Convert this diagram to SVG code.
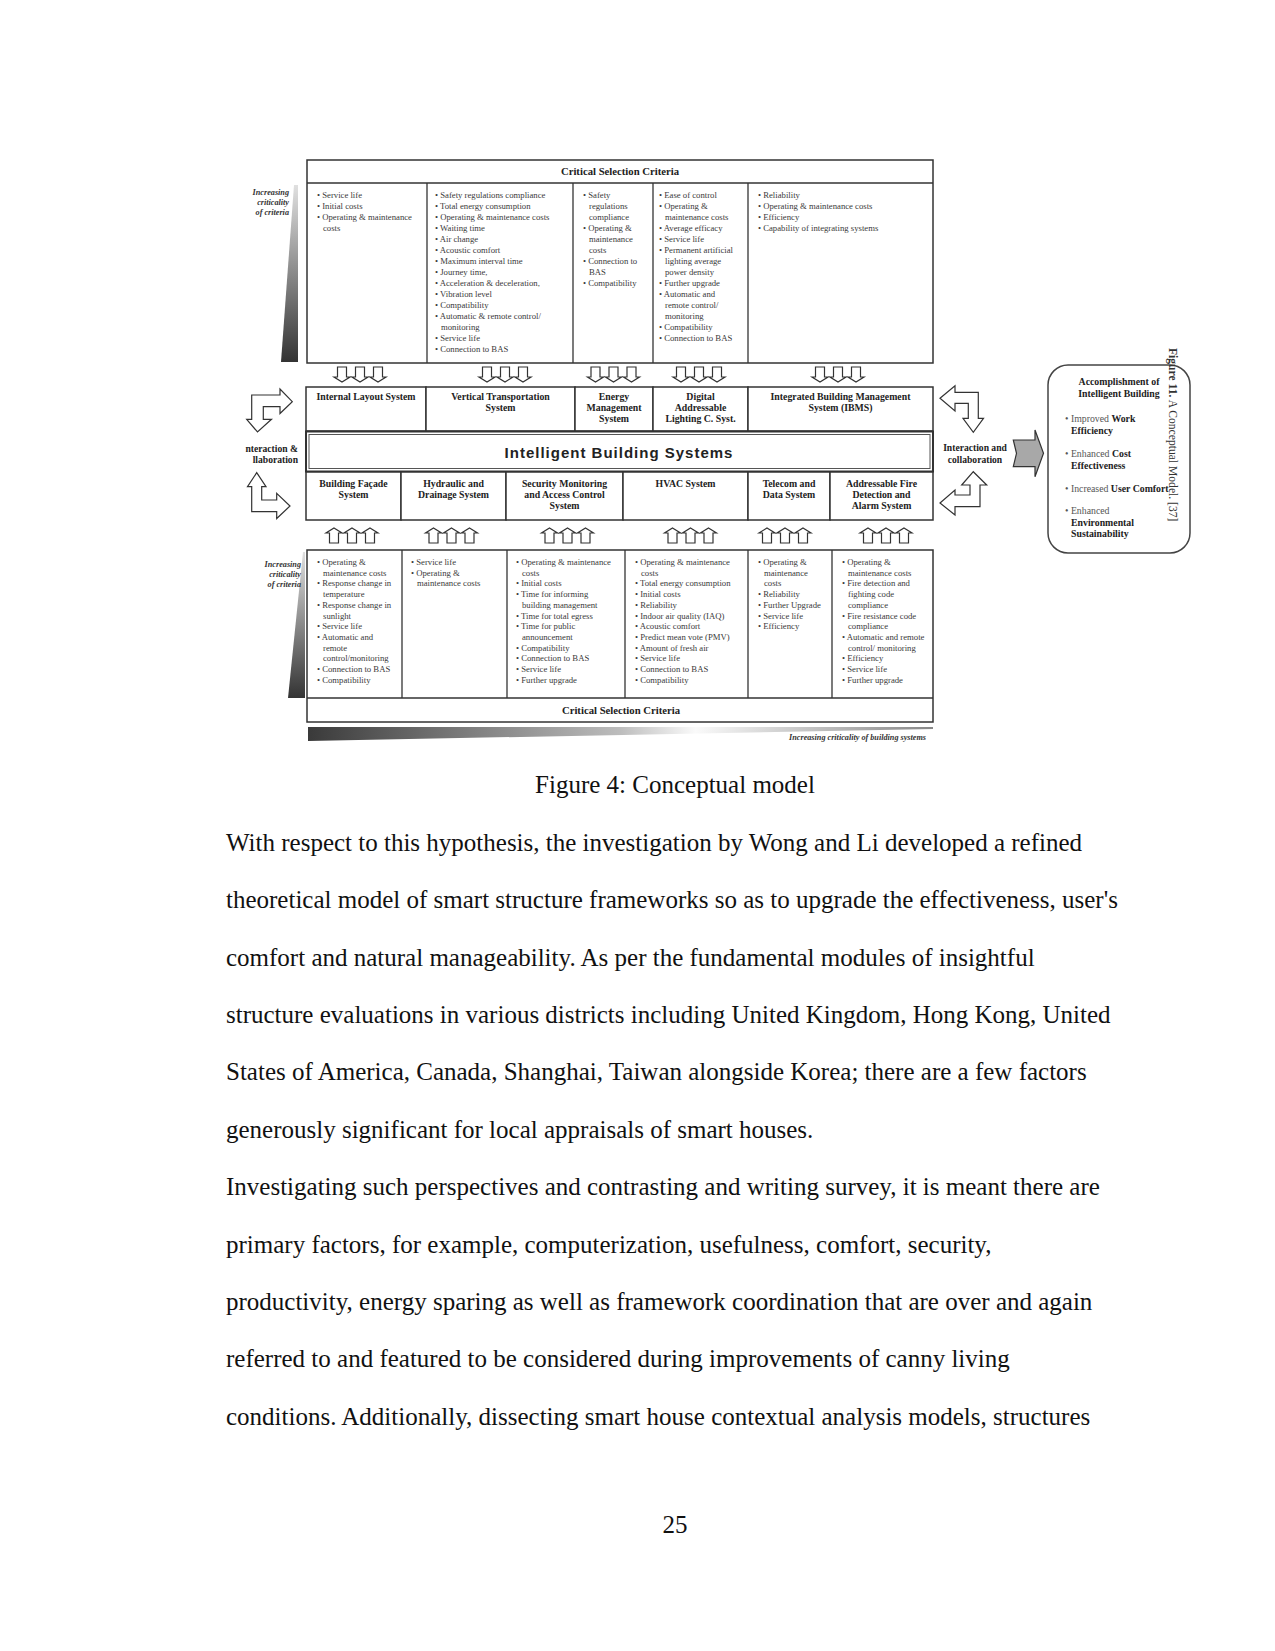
<svg xmlns="http://www.w3.org/2000/svg" width="1275" height="1651" viewBox="0 0 1275 1651">
<style>
.bg{fill:#fff}
.box{fill:#fff;stroke:#333;stroke-width:1.5}
.ln{stroke:#333;stroke-width:1.3;fill:none}
.arr{fill:#fff;stroke:#333;stroke-width:1.2;stroke-linejoin:miter}
.crit{font-family:"Liberation Serif",serif;font-size:8.7px;fill:#3a3a3a}
.sys{font-family:"Liberation Serif",serif;font-size:9.8px;font-weight:bold;fill:#222;text-anchor:middle}
.hdr{font-family:"Liberation Serif",serif;font-size:10.7px;font-weight:bold;fill:#222;text-anchor:middle}
.ibs{font-family:"Liberation Sans",Arial,sans-serif;font-size:15px;font-weight:bold;fill:#222;text-anchor:middle;letter-spacing:1px}
.it{font-family:"Liberation Serif",serif;font-size:8.2px;font-weight:bold;font-style:italic;fill:#333;text-anchor:end}
.ia{font-family:"Liberation Serif",serif;font-size:9.6px;font-weight:bold;fill:#222}
.acc{font-family:"Liberation Serif",serif;font-size:9.8px;fill:#555}
.accb{font-weight:bold;fill:#222}
.body{font-family:"Liberation Serif","Times New Roman",serif;font-size:25px;fill:#111}
</style>
<defs>
<linearGradient id="gv" x1="0" y1="0" x2="0" y2="1">
<stop offset="0" stop-color="#e0e0e0"/>
<stop offset="1" stop-color="#333"/>
</linearGradient>
<linearGradient id="gh" x1="0" y1="0" x2="1" y2="0">
<stop offset="0" stop-color="#3a3a3a"/>
<stop offset="0.5" stop-color="#bdbdbd"/>
<stop offset="0.62" stop-color="#fafafa"/>
<stop offset="1" stop-color="#888"/>
</linearGradient>
<path id="da" class="arr" d="M-4.5,0 H4.5 V10 H8 L0,15 L-8,10 H-4.5 Z"/>
<path id="ua" class="arr" d="M0,0 L8,5 H4.5 V15 H-4.5 V5 H-8 Z"/>
</defs>
<rect class="bg" x="0" y="0" width="1275" height="1651"/>

<!-- Left gradient triangles and labels -->
<g id="crit-top-indicator">
<polygon points="294,185 298,185 298,362 281,362" fill="url(#gv)"/>
<text class="it"><tspan x="289" y="195">Increasing</tspan><tspan x="289" y="205">criticality</tspan><tspan x="289" y="215">of criteria</tspan></text>
</g>
<g id="crit-bottom-indicator">
<polygon points="303,552 305,552 305,698 288,698" fill="url(#gv)"/>
<text class="it"><tspan x="301" y="567">Increasing</tspan><tspan x="301" y="577">criticality</tspan><tspan x="301" y="587">of criteria</tspan></text>
</g>

<!-- Top criteria table -->
<g id="top-criteria">
<rect class="box" x="307" y="160" width="626" height="203"/>
<line class="ln" x1="307" y1="183" x2="933" y2="183"/>
<line class="ln" x1="427" y1="183" x2="427" y2="363"/>
<line class="ln" x1="573" y1="183" x2="573" y2="363"/>
<line class="ln" x1="653" y1="183" x2="653" y2="363"/>
<line class="ln" x1="748" y1="183" x2="748" y2="363"/>
<text class="hdr" x="620" y="175">Critical Selection Criteria</text>
<text class="crit"><tspan x="317" y="198">• Service life</tspan><tspan x="317" dy="11">• Initial costs</tspan><tspan x="317" dy="11">• Operating &amp; maintenance</tspan><tspan x="323" dy="11">costs</tspan></text>
<text class="crit"><tspan x="435" y="198">• Safety regulations compliance</tspan><tspan x="435" dy="11">• Total energy consumption</tspan><tspan x="435" dy="11">• Operating &amp; maintenance costs</tspan><tspan x="435" dy="11">• Waiting time</tspan><tspan x="435" dy="11">• Air change</tspan><tspan x="435" dy="11">• Acoustic comfort</tspan><tspan x="435" dy="11">• Maximum interval time</tspan><tspan x="435" dy="11">• Journey time,</tspan><tspan x="435" dy="11">• Acceleration &amp; deceleration,</tspan><tspan x="435" dy="11">• Vibration level</tspan><tspan x="435" dy="11">• Compatibility</tspan><tspan x="435" dy="11">• Automatic &amp; remote control/</tspan><tspan x="441" dy="11">monitoring</tspan><tspan x="435" dy="11">• Service life</tspan><tspan x="435" dy="11">• Connection to BAS</tspan></text>
<text class="crit"><tspan x="583" y="198">• Safety</tspan><tspan x="589" dy="11">regulations</tspan><tspan x="589" dy="11">compliance</tspan><tspan x="583" dy="11">• Operating &amp;</tspan><tspan x="589" dy="11">maintenance</tspan><tspan x="589" dy="11">costs</tspan><tspan x="583" dy="11">• Connection to</tspan><tspan x="589" dy="11">BAS</tspan><tspan x="583" dy="11">• Compatibility</tspan></text>
<text class="crit"><tspan x="659" y="198">• Ease of control</tspan><tspan x="659" dy="11">• Operating &amp;</tspan><tspan x="665" dy="11">maintenance costs</tspan><tspan x="659" dy="11">• Average efficacy</tspan><tspan x="659" dy="11">• Service life</tspan><tspan x="659" dy="11">• Permanent artificial</tspan><tspan x="665" dy="11">lighting average</tspan><tspan x="665" dy="11">power density</tspan><tspan x="659" dy="11">• Further upgrade</tspan><tspan x="659" dy="11">• Automatic and</tspan><tspan x="665" dy="11">remote control/</tspan><tspan x="665" dy="11">monitoring</tspan><tspan x="659" dy="11">• Compatibility</tspan><tspan x="659" dy="11">• Connection to BAS</tspan></text>
<text class="crit"><tspan x="758" y="198">• Reliability</tspan><tspan x="758" dy="11">• Operating &amp; maintenance costs</tspan><tspan x="758" dy="11">• Efficiency</tspan><tspan x="758" dy="11">• Capability of integrating systems</tspan></text>
</g>

<!-- Connectors: arrows -->
<g id="connectors">
<use href="#da" x="342" y="367"/><use href="#da" x="360" y="367"/><use href="#da" x="378" y="367"/>
<use href="#da" x="487" y="367"/><use href="#da" x="505" y="367"/><use href="#da" x="523" y="367"/>
<use href="#da" x="595.5" y="367"/><use href="#da" x="613.5" y="367"/><use href="#da" x="631.5" y="367"/>
<use href="#da" x="681" y="367"/><use href="#da" x="699" y="367"/><use href="#da" x="717" y="367"/>
<use href="#da" x="820" y="367"/><use href="#da" x="838" y="367"/><use href="#da" x="856" y="367"/>

<use href="#ua" x="334" y="528"/><use href="#ua" x="352" y="528"/><use href="#ua" x="370" y="528"/>
<use href="#ua" x="433.5" y="528"/><use href="#ua" x="451.5" y="528"/><use href="#ua" x="469.5" y="528"/>
<use href="#ua" x="549.5" y="528"/><use href="#ua" x="567.5" y="528"/><use href="#ua" x="585.5" y="528"/>
<use href="#ua" x="672.5" y="528"/><use href="#ua" x="690.5" y="528"/><use href="#ua" x="708.5" y="528"/>
<use href="#ua" x="767" y="528"/><use href="#ua" x="785" y="528"/><use href="#ua" x="803" y="528"/>
<use href="#ua" x="868" y="528"/><use href="#ua" x="886" y="528"/><use href="#ua" x="904" y="528"/>

<polygon class="arr" points="251.7,395 280,395 280,389 292.3,401.7 280,413.5 280,406.7 263.3,406.7 263.3,419.3 271.5,419.3 257.5,432 246.7,419.3 251.7,419.3"/>
<polygon class="arr" points="251.7,486.7 251.7,511.7 276.7,511.7 276.7,518.5 290,506 276.7,493.3 276.7,500 261.7,500 261.7,486.7 266,486.7 256.7,472.7 247.5,486.7"/>
<polygon class="arr" points="940,398.3 955,385.7 955,392.3 978.3,392.3 978.3,418.3 983.5,418.3 973.3,432.3 963,418.3 968.3,418.3 968.3,403.3 955,403.3 955,411"/>
<polygon class="arr" points="973.3,471.7 986.7,485 980,485 980,506.7 955,506.7 955,515 940,503 955,490 955,495 970,495 970,485 961.7,485"/>
<polygon points="1013.3,440 1035,440 1035,430 1043.5,453.3 1035,476.7 1035,466.7 1013.3,466.7 1016.5,453.3" fill="#a8a8a8" stroke="#333" stroke-width="1.2"/>
</g>

<g id="interaction-left">
<text class="ia" text-anchor="end"><tspan x="298" y="451.5">nteraction &amp;</tspan><tspan x="298" y="463">llaboration</tspan></text>
</g>
<g id="interaction-right">
<text class="ia" text-anchor="middle"><tspan x="975" y="451">Interaction and</tspan><tspan x="975" y="462.5">collaboration</tspan></text>
</g>

<!-- Upper systems row -->
<g id="sys-internal-layout">
<rect class="box" x="306" y="387" width="120" height="44"/>
<text class="sys" x="366" y="400">Internal Layout System</text>
</g>
<g id="sys-vertical-transportation">
<rect class="box" x="426" y="387" width="149" height="44"/>
<text class="sys"><tspan x="500.5" y="400">Vertical Transportation</tspan><tspan x="500.5" dy="11">System</tspan></text>
</g>
<g id="sys-energy-management">
<rect class="box" x="575" y="387" width="78" height="44"/>
<text class="sys"><tspan x="614" y="400">Energy</tspan><tspan x="614" dy="11">Management</tspan><tspan x="614" dy="11">System</tspan></text>
</g>
<g id="sys-dali">
<rect class="box" x="653" y="387" width="95" height="44"/>
<text class="sys"><tspan x="700.5" y="400">Digital</tspan><tspan x="700.5" dy="11">Addressable</tspan><tspan x="700.5" dy="11">Lighting C. Syst.</tspan></text>
</g>
<g id="sys-ibms">
<rect class="box" x="748" y="387" width="185" height="44"/>
<text class="sys"><tspan x="840.5" y="400">Integrated Building Management</tspan><tspan x="840.5" dy="11">System (IBMS)</tspan></text>
</g>

<!-- Central IBS bar -->
<g id="intelligent-building-systems">
<rect x="306" y="431.5" width="627" height="40" fill="#fff" stroke="#333" stroke-width="2"/>
<rect x="309" y="434.5" width="621" height="34" fill="none" stroke="#555" stroke-width="1"/>
<text class="ibs" x="619" y="457.5">Intelligent Building Systems</text>
</g>

<!-- Lower systems row -->
<g id="sys-facade">
<rect class="box" x="306" y="472" width="95" height="48"/>
<text class="sys"><tspan x="353.5" y="487">Building Façade</tspan><tspan x="353.5" dy="11">System</tspan></text>
</g>
<g id="sys-hydraulic">
<rect class="box" x="401" y="472" width="105" height="48"/>
<text class="sys"><tspan x="453.5" y="487">Hydraulic and</tspan><tspan x="453.5" dy="11">Drainage System</tspan></text>
</g>
<g id="sys-security">
<rect class="box" x="506" y="472" width="117" height="48"/>
<text class="sys"><tspan x="564.5" y="487">Security Monitoring</tspan><tspan x="564.5" dy="11">and Access Control</tspan><tspan x="564.5" dy="11">System</tspan></text>
</g>
<g id="sys-hvac">
<rect class="box" x="623" y="472" width="125" height="48"/>
<text class="sys" x="685.5" y="487">HVAC System</text>
</g>
<g id="sys-telecom">
<rect class="box" x="748" y="472" width="82" height="48"/>
<text class="sys"><tspan x="789" y="487">Telecom and</tspan><tspan x="789" dy="11">Data System</tspan></text>
</g>
<g id="sys-fire">
<rect class="box" x="830" y="472" width="103" height="48"/>
<text class="sys"><tspan x="881.5" y="487">Addressable Fire</tspan><tspan x="881.5" dy="11">Detection and</tspan><tspan x="881.5" dy="11">Alarm System</tspan></text>
</g>

<!-- Bottom criteria table -->
<g id="bottom-criteria">
<rect class="box" x="307" y="550" width="626" height="172"/>
<line class="ln" x1="307" y1="698" x2="933" y2="698"/>
<line class="ln" x1="402" y1="550" x2="402" y2="698"/>
<line class="ln" x1="507" y1="550" x2="507" y2="698"/>
<line class="ln" x1="625" y1="550" x2="625" y2="698"/>
<line class="ln" x1="748" y1="550" x2="748" y2="698"/>
<line class="ln" x1="832" y1="550" x2="832" y2="698"/>
<text class="hdr" x="621" y="714">Critical Selection Criteria</text>
<text class="crit"><tspan x="317" y="565">• Operating &amp;</tspan><tspan x="323" dy="10.7">maintenance costs</tspan><tspan x="317" dy="10.7">• Response change in</tspan><tspan x="323" dy="10.7">temperature</tspan><tspan x="317" dy="10.7">• Response change in</tspan><tspan x="323" dy="10.7">sunlight</tspan><tspan x="317" dy="10.7">• Service life</tspan><tspan x="317" dy="10.7">• Automatic and</tspan><tspan x="323" dy="10.7">remote</tspan><tspan x="323" dy="10.7">control/monitoring</tspan><tspan x="317" dy="10.7">• Connection to BAS</tspan><tspan x="317" dy="10.7">• Compatibility</tspan></text>
<text class="crit"><tspan x="411" y="565">• Service life</tspan><tspan x="411" dy="10.7">• Operating &amp;</tspan><tspan x="417" dy="10.7">maintenance costs</tspan></text>
<text class="crit"><tspan x="516" y="565">• Operating &amp; maintenance</tspan><tspan x="522" dy="10.7">costs</tspan><tspan x="516" dy="10.7">• Initial costs</tspan><tspan x="516" dy="10.7">• Time for informing</tspan><tspan x="522" dy="10.7">building management</tspan><tspan x="516" dy="10.7">• Time for total egress</tspan><tspan x="516" dy="10.7">• Time for public</tspan><tspan x="522" dy="10.7">announcement</tspan><tspan x="516" dy="10.7">• Compatibility</tspan><tspan x="516" dy="10.7">• Connection to BAS</tspan><tspan x="516" dy="10.7">• Service life</tspan><tspan x="516" dy="10.7">• Further upgrade</tspan></text>
<text class="crit"><tspan x="635" y="565">• Operating &amp; maintenance</tspan><tspan x="641" dy="10.7">costs</tspan><tspan x="635" dy="10.7">• Total energy consumption</tspan><tspan x="635" dy="10.7">• Initial costs</tspan><tspan x="635" dy="10.7">• Reliability</tspan><tspan x="635" dy="10.7">• Indoor air quality (IAQ)</tspan><tspan x="635" dy="10.7">• Acoustic comfort</tspan><tspan x="635" dy="10.7">• Predict mean vote (PMV)</tspan><tspan x="635" dy="10.7">• Amount of fresh air</tspan><tspan x="635" dy="10.7">• Service life</tspan><tspan x="635" dy="10.7">• Connection to BAS</tspan><tspan x="635" dy="10.7">• Compatibility</tspan></text>
<text class="crit"><tspan x="758" y="565">• Operating &amp;</tspan><tspan x="764" dy="10.7">maintenance</tspan><tspan x="764" dy="10.7">costs</tspan><tspan x="758" dy="10.7">• Reliability</tspan><tspan x="758" dy="10.7">• Further Upgrade</tspan><tspan x="758" dy="10.7">• Service life</tspan><tspan x="758" dy="10.7">• Efficiency</tspan></text>
<text class="crit"><tspan x="842" y="565">• Operating &amp;</tspan><tspan x="848" dy="10.7">maintenance costs</tspan><tspan x="842" dy="10.7">• Fire detection and</tspan><tspan x="848" dy="10.7">fighting code</tspan><tspan x="848" dy="10.7">compliance</tspan><tspan x="842" dy="10.7">• Fire resistance code</tspan><tspan x="848" dy="10.7">compliance</tspan><tspan x="842" dy="10.7">• Automatic and remote</tspan><tspan x="848" dy="10.7">control/ monitoring</tspan><tspan x="842" dy="10.7">• Efficiency</tspan><tspan x="842" dy="10.7">• Service life</tspan><tspan x="842" dy="10.7">• Further upgrade</tspan></text>
</g>

<g id="system-criticality-bar">
<polygon points="308,727 933,727 933,729 308,741" fill="url(#gh)"/>
<text class="it" x="926" y="739.5">Increasing criticality of building systems</text>
</g>

<!-- Accomplishment box -->
<g id="accomplishment">
<rect x="1048" y="365" width="142" height="188" rx="20" ry="20" fill="#fff" stroke="#444" stroke-width="1.5"/>
<text class="sys" font-size="10.8"><tspan x="1119" y="385">Accomplishment of</tspan><tspan x="1119" dy="11.7">Intelligent Building</tspan></text>
<text class="acc"><tspan x="1065" y="422">• Improved <tspan class="accb">Work</tspan></tspan><tspan x="1071" y="433.5" class="accb">Efficiency</tspan><tspan x="1065" y="457">• Enhanced <tspan class="accb">Cost</tspan></tspan><tspan x="1071" y="468.5" class="accb">Effectiveness</tspan><tspan x="1065" y="492">• Increased <tspan class="accb">User Comfort</tspan></tspan><tspan x="1065" y="514">• Enhanced</tspan><tspan x="1071" y="525.7" class="accb">Environmental</tspan><tspan x="1071" y="537" class="accb">Sustainability</tspan></text>
</g>
<text transform="translate(1169,348) rotate(90)" font-family="Liberation Serif, serif" font-size="11.6px" fill="#333"><tspan font-weight="bold">Figure 11.</tspan> A Conceptual Model. [37]</text>

<!-- Caption and body -->
<text class="body" x="675" y="792.5" text-anchor="middle">Figure 4: Conceptual model</text>
<text class="body">
<tspan x="226" y="850.7">With respect to this hypothesis, the investigation by Wong and Li developed a refined</tspan>
<tspan x="226" y="908.1">theoretical model of smart structure frameworks so as to upgrade the effectiveness, user's</tspan>
<tspan x="226" y="965.5">comfort and natural manageability. As per the fundamental modules of insightful</tspan>
<tspan x="226" y="1022.9">structure evaluations in various districts including United Kingdom, Hong Kong, United</tspan>
<tspan x="226" y="1080.3">States of America, Canada, Shanghai, Taiwan alongside Korea; there are a few factors</tspan>
<tspan x="226" y="1137.7">generously significant for local appraisals of smart houses.</tspan>
<tspan x="226" y="1195.1">Investigating such perspectives and contrasting and writing survey, it is meant there are</tspan>
<tspan x="226" y="1252.5">primary factors, for example, computerization, usefulness, comfort, security,</tspan>
<tspan x="226" y="1309.9">productivity, energy sparing as well as framework coordination that are over and again</tspan>
<tspan x="226" y="1367.3">referred to and featured to be considered during improvements of canny living</tspan>
<tspan x="226" y="1424.7">conditions. Additionally, dissecting smart house contextual analysis models, structures</tspan>
</text>
<text class="body" x="675" y="1533" text-anchor="middle">25</text>
</svg>
